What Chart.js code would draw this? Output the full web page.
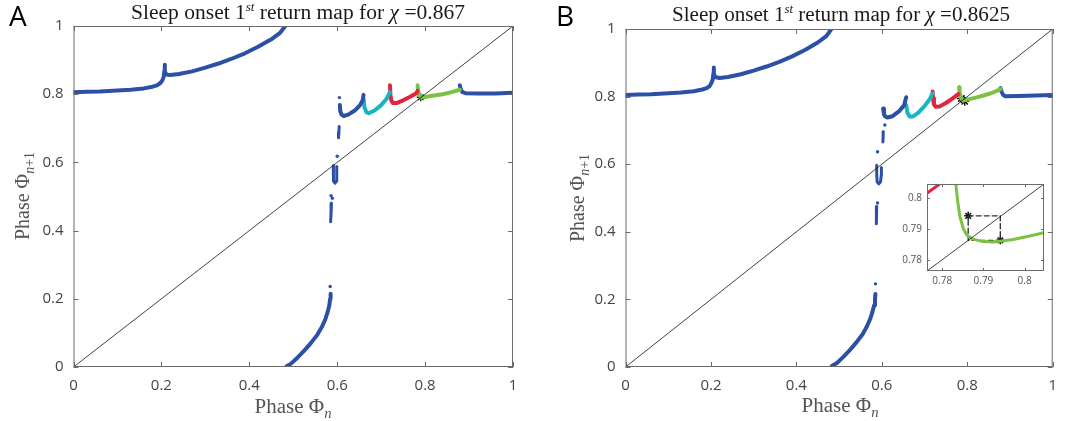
<!DOCTYPE html>
<html>
<head>
  <meta charset="utf-8">
  <title>Sleep onset return maps</title>
  <style>
    body { margin: 0; background: #fff; }
    #wrap { position: relative; width: 1067px; height: 421px; }
    canvas { position: absolute; }
  </style>
</head>
<body>

  <div id="wrap">
    <canvas id="chartA" width="540" height="421" style="left:0;top:0"></canvas>
    <canvas id="chartB" width="527" height="421" style="left:540px;top:0"></canvas>
    <canvas id="inset" width="175" height="130" style="left:880px;top:165px"></canvas>
  </div>

  <script src="https://cdn.jsdelivr.net/npm/chart.js@4.4.1/dist/chart.umd.min.js"></script>
  <script>
    // tick values
    const mainTicks = [0, 0.2, 0.4, 0.6, 0.8, 1];
    const insetTicks = [0.78, 0.79, 0.8];
    const insetRange = [0.7763, 0.8047];

    // ---- panel A (chi = 0.867), points as [phi_n, phi_n+1]
    const aBlueLeft = [[0,0.806],[0.03,0.807],[0.06,0.808],[0.1,0.811],[0.13,0.813],[0.16,0.817],[0.18,0.822],[0.19,0.826],[0.197,0.832],[0.202,0.840],[0.205,0.850],[0.207,0.870],[0.2075,0.886],[0.208,0.868],[0.211,0.858],[0.22,0.856],[0.24,0.859],[0.27,0.867],[0.3,0.878],[0.33,0.89],[0.36,0.904],[0.39,0.92],[0.42,0.939],[0.45,0.961],[0.47,0.98],[0.482,1.0]];
    const aBlueMid = [[0.606,0.768],[0.607,0.75],[0.610,0.740],[0.615,0.736],[0.625,0.740],[0.64,0.752],[0.652,0.768],[0.658,0.782],[0.660,0.798]];
    const aCyan = [[0.660,0.785],[0.662,0.762],[0.666,0.748],[0.672,0.744],[0.685,0.752],[0.70,0.768],[0.712,0.786],[0.720,0.806]];
    const aRed = [[0.720,0.826],[0.721,0.80],[0.723,0.782],[0.727,0.774],[0.735,0.774],[0.75,0.782],[0.765,0.792],[0.78,0.803],[0.783,0.81]];
    const aGreen = [[0.783,0.826],[0.784,0.81],[0.787,0.797],[0.79,0.791],[0.80,0.792],[0.82,0.796],[0.84,0.800],[0.86,0.806],[0.879,0.813]];
    const aBlueRight = [[0.879,0.826],[0.881,0.815],[0.885,0.806],[0.892,0.803],[0.92,0.802],[0.96,0.802],[1.0,0.804]];
    const aSeg1 = [[0.6045,0.705],[0.604,0.69],[0.603,0.672]];
    const aU = [[0.591,0.59],[0.591,0.565],[0.592,0.545],[0.595,0.539],[0.598,0.545],[0.599,0.565],[0.599,0.588]];
    const aSeg2 = [[0.587,0.48],[0.586,0.45],[0.585,0.426]];
    const aLower = [[0.485,0.002],[0.495,0.01],[0.51,0.028],[0.525,0.048],[0.54,0.07],[0.555,0.095],[0.565,0.117],[0.573,0.14],[0.578,0.16],[0.582,0.18],[0.584,0.2],[0.585,0.215]];
    const aDots = [[0.605,0.79],[0.600,0.618],[0.589,0.495],[0.586,0.502],[0.584,0.236]];
    const aFixed = [[0.79,0.791]];

    // ---- panel B (chi = 0.8625)
    const bBlueLeft = [[0,0.805],[0.03,0.806],[0.06,0.807],[0.1,0.810],[0.13,0.812],[0.16,0.816],[0.18,0.821],[0.19,0.825],[0.197,0.831],[0.201,0.840],[0.204,0.850],[0.206,0.870],[0.2065,0.886],[0.207,0.868],[0.210,0.858],[0.22,0.855],[0.24,0.858],[0.27,0.866],[0.3,0.877],[0.33,0.889],[0.36,0.903],[0.39,0.919],[0.42,0.938],[0.45,0.96],[0.47,0.979],[0.482,1.0]];
    const bBlueMid = [[0.603,0.765],[0.605,0.748],[0.608,0.741],[0.613,0.738],[0.625,0.742],[0.64,0.756],[0.652,0.774],[0.657,0.798]];
    const bCyan = [[0.657,0.775],[0.660,0.752],[0.665,0.741],[0.672,0.741],[0.685,0.752],[0.70,0.772],[0.712,0.792],[0.719,0.81]];
    const bRed = [[0.719,0.815],[0.720,0.795],[0.722,0.777],[0.726,0.770],[0.735,0.771],[0.75,0.781],[0.765,0.794],[0.779,0.807]];
    const bGreen = [[0.781,0.828],[0.782,0.81],[0.785,0.797],[0.79,0.788],[0.80,0.791],[0.82,0.797],[0.84,0.804],[0.86,0.812],[0.878,0.822]];
    const bBlueRight = [[0.878,0.825],[0.880,0.815],[0.884,0.805],[0.889,0.801],[0.92,0.802],[0.96,0.803],[1.0,0.805]];
    const bSeg1 = [[0.6035,0.696],[0.603,0.68],[0.6025,0.666]];
    const bU = [[0.588,0.597],[0.588,0.57],[0.589,0.548],[0.593,0.542],[0.597,0.548],[0.599,0.57],[0.599,0.59]];
    const bSeg2 = [[0.588,0.475],[0.5875,0.45],[0.587,0.424]];
    const bLower = [[0.483,0.003],[0.495,0.012],[0.51,0.03],[0.525,0.05],[0.54,0.072],[0.555,0.097],[0.565,0.12],[0.573,0.143],[0.578,0.163],[0.582,0.183],[0.584,0.2],[0.585,0.216]];
    const bDots = [[0.607,0.716],[0.590,0.637],[0.590,0.485],[0.585,0.246]];
    const bCycle = [[0.7863,0.7943],[0.7941,0.7863]];

    // ---- inset of panel B (zoom around the 2-cycle)
    const insetGreen = [[0.7833,0.8047],[0.7837,0.7995],[0.7843,0.7940],[0.7851,0.7902],[0.7860,0.7880],[0.7875,0.7867],[0.7899,0.7859],[0.7923,0.7858],[0.7944,0.7861],[0.7972,0.7866],[0.8012,0.7877],[0.8047,0.7888]];
    const insetRed = [[0.7762,0.8016],[0.7797,0.8050]];
    const insetCobweb = [[0.7863,0.7943],[0.7941,0.7943],[0.7941,0.7863],[0.7863,0.7863],[0.7863,0.7943]];

    const blue = '#2b50a5', cyan = '#17b5c1', red = '#e3243f', green = '#7bc144';
    const serif = '"Liberation Serif", "DejaVu Serif", serif';
    const sans = '"Open Sans", "Noto Sans", sans-serif';

    function curve(data, color, w) {
      return { data: data, showLine: true, borderColor: color, backgroundColor: color, borderWidth: w || 4,
               pointRadius: 0, borderCapStyle: 'round', borderJoinStyle: 'round', tension: 0 };
    }
    function dots(data, color) {
      return { data: data, showLine: false, pointRadius: 1.7, pointBackgroundColor: color, pointBorderWidth: 0 };
    }
    function stars(data, r, w) {
      return { data: data, showLine: false, pointStyle: 'star', pointRadius: r, pointBorderColor: '#111',
               pointBorderWidth: w, pointBackgroundColor: '#111' };
    }

    // frame + inward ticks on all four sides, like matlab
    const framePlugin = {
      id: 'frame',
      beforeDraw(chart) {
        const a = chart.chartArea, ctx = chart.ctx;
        ctx.save();
        ctx.fillStyle = '#fff';
        ctx.fillRect(a.left, a.top, a.right - a.left, a.bottom - a.top);
        ctx.restore();
      },
      afterDatasetsDraw(chart, args, opts) {
        const a = chart.chartArea, ctx = chart.ctx;
        const L = opts.len || 5;
        ctx.save();
        ctx.strokeStyle = '#6b6b6b';
        ctx.lineWidth = 1;
        ctx.strokeRect(a.left + 0.5, a.top + 0.5, a.right - a.left - 1, a.bottom - a.top - 1);
        ctx.beginPath();
        chart.scales.x.ticks.forEach(t => {
          const p = Math.round(chart.scales.x.getPixelForValue(t.value)) + 0.5;
          ctx.moveTo(p, a.bottom); ctx.lineTo(p, a.bottom - L);
          ctx.moveTo(p, a.top); ctx.lineTo(p, a.top + L);
        });
        chart.scales.y.ticks.forEach(t => {
          const p = Math.round(chart.scales.y.getPixelForValue(t.value)) + 0.5;
          ctx.moveTo(a.left, p); ctx.lineTo(a.left + L, p);
          ctx.moveTo(a.right, p); ctx.lineTo(a.right - L, p);
        });
        ctx.stroke();
        ctx.restore();
      }
    };

    // text with sub/superscripts: parts are [text, dy, style, scale]
    // if width is given the whole line is stretched sideways to that width
    function rich(ctx, parts, size, x, y, width) {
      let total = 0;
      const fonts = parts.map(p => (p[2] || '') + ' ' + Math.round(size * (p[3] || 1)) + 'px ' + serif);
      parts.forEach((p, i) => { ctx.font = fonts[i]; total += ctx.measureText(p[0]).width; });
      const k = width ? width / total : 1;
      ctx.save();
      ctx.translate(x, y);
      ctx.scale(k, 1);
      let cx = -total / 2;
      ctx.textAlign = 'left';
      ctx.textBaseline = 'alphabetic';
      parts.forEach((p, i) => {
        ctx.font = fonts[i];
        ctx.fillText(p[0], cx, p[1] || 0);
        cx += ctx.measureText(p[0]).width;
      });
      ctx.restore();
    }

    const textPlugin = {
      id: 'texts',
      afterDraw(chart, args, o) {
        const ctx = chart.ctx;
        ctx.save();
        ctx.fillStyle = '#000';
        ctx.font = '28px ' + sans;
        ctx.textAlign = 'left';
        ctx.textBaseline = 'alphabetic';
        ctx.fillText(o.letter, o.letterX, 26);

        ctx.fillStyle = '#1a1a1a';
        rich(ctx, [['Sleep onset 1'], ['st', -8, 'italic', 0.62], [' return map for '], ['\u03C7', 0, 'italic'], [' =' + o.chi]], 20, o.titleX, o.titleY, o.titleW);

        ctx.fillStyle = '#555';
        rich(ctx, [['Phase \u03A6'], ['n', 5, 'italic', 0.68]], 20, o.xlabX, o.xlabY, 77);

        ctx.translate(o.ylabX, o.ylabY);
        ctx.rotate(-Math.PI / 2);
        rich(ctx, [['Phase \u03A6'], ['n', 5, 'italic', 0.68], ['+1', 5, '', 0.68]], 20, 0, 7);
        ctx.restore();
      }
    };

    function label(v) { return String(+v.toFixed(2)); }

    function axes(ticks, range, yWidth, xHeight, fontSize, padX, padY, color) {
      const common = {
        type: 'linear', min: range[0], max: range[1],
        grid: { display: false, drawTicks: false }, border: { display: false },
        afterBuildTicks: s => { s.ticks = ticks.map(v => ({ value: v })); }
      };
      return {
        x: Object.assign({}, common, {
          position: 'bottom',
          ticks: { color: color, font: { family: sans, size: fontSize }, padding: padX, maxRotation: 0, callback: label },
          afterFit: s => { s.height = xHeight; }
        }),
        y: Object.assign({}, common, {
          position: 'left',
          ticks: { color: color, font: { family: sans, size: fontSize }, padding: padY, callback: label },
          afterFit: s => { s.width = yWidth; }
        })
      };
    }

    function mainChart(id, sets, pad, yWidth, deco) {
      return new Chart(id, {
        type: 'scatter',
        data: { datasets: sets },
        options: {
          responsive: false, animation: false, devicePixelRatio: 1,
          layout: { padding: pad },
          scales: axes(mainTicks, [0, 1], yWidth, 421 - pad.bottomEdge, 15, 10, 10, '#444'),
          plugins: { legend: { display: false }, tooltip: { enabled: false }, texts: deco, frame: { len: 5 } }
        },
        plugins: [framePlugin, textPlugin]
      });
    }

    const diag = curve([[0, 0], [1, 1]], '#111', 0.8);

    mainChart('chartA', [
      diag,
      curve(aBlueLeft, blue), curve(aBlueMid, blue), curve(aCyan, cyan), curve(aRed, red),
      curve(aGreen, green), curve(aBlueRight, blue),
      curve(aSeg1, blue, 3), curve(aU, blue, 3), curve(aSeg2, blue, 3), curve(aLower, blue, 4),
      dots(aDots, blue), stars(aFixed, 4, 1.3)
    ], { top: 26, right: 27, left: 0, bottom: 0, bottomEdge: 367 }, 73.5,
      { letter: 'A', letterX: 9, chi: '0.867', titleX: 298, titleY: 19, titleW: 334, xlabX: 293, xlabY: 413, ylabX: 22, ylabY: 196 });

    mainChart('chartB', [
      diag,
      curve(bBlueLeft, blue), curve(bBlueMid, blue), curve(bCyan, cyan), curve(bRed, red),
      curve(bGreen, green), curve(bBlueRight, blue),
      curve(bSeg1, blue, 3), curve(bU, blue, 3), curve(bSeg2, blue, 3), curve(bLower, blue, 4),
      dots(bDots, blue), stars(bCycle, 4.5, 1.5)
    ], { top: 29, right: 4, left: 0, bottom: 0, bottomEdge: 367 }, 85.5,
      { letter: 'B', letterX: 16, chi: '0.8625', titleX: 301, titleY: 21, titleW: 338, xlabX: 300, xlabY: 412, ylabX: 37, ylabY: 198 });

    new Chart('inset', {
      type: 'scatter',
      data: {
        datasets: [
          curve([[insetRange[0], insetRange[0]], [insetRange[1], insetRange[1]]], '#111', 0.8),
          curve(insetRed, red, 3),
          curve(insetGreen, green, 3),
          Object.assign(curve(insetCobweb, '#333', 1.4), { borderDash: [5, 3] }),
          stars(bCycle, 4, 1.5)
        ]
      },
      options: {
        responsive: false, animation: false, devicePixelRatio: 1,
        layout: { padding: { top: 19, right: 11, left: 0, bottom: 0 } },
        scales: axes(insetTicks, insetRange, 47, 24, 10, 4, 5, '#555'),
        plugins: { legend: { display: false }, tooltip: { enabled: false }, frame: { len: 3 } }
      },
      plugins: [framePlugin]
    });
  </script>

</body>
</html>
